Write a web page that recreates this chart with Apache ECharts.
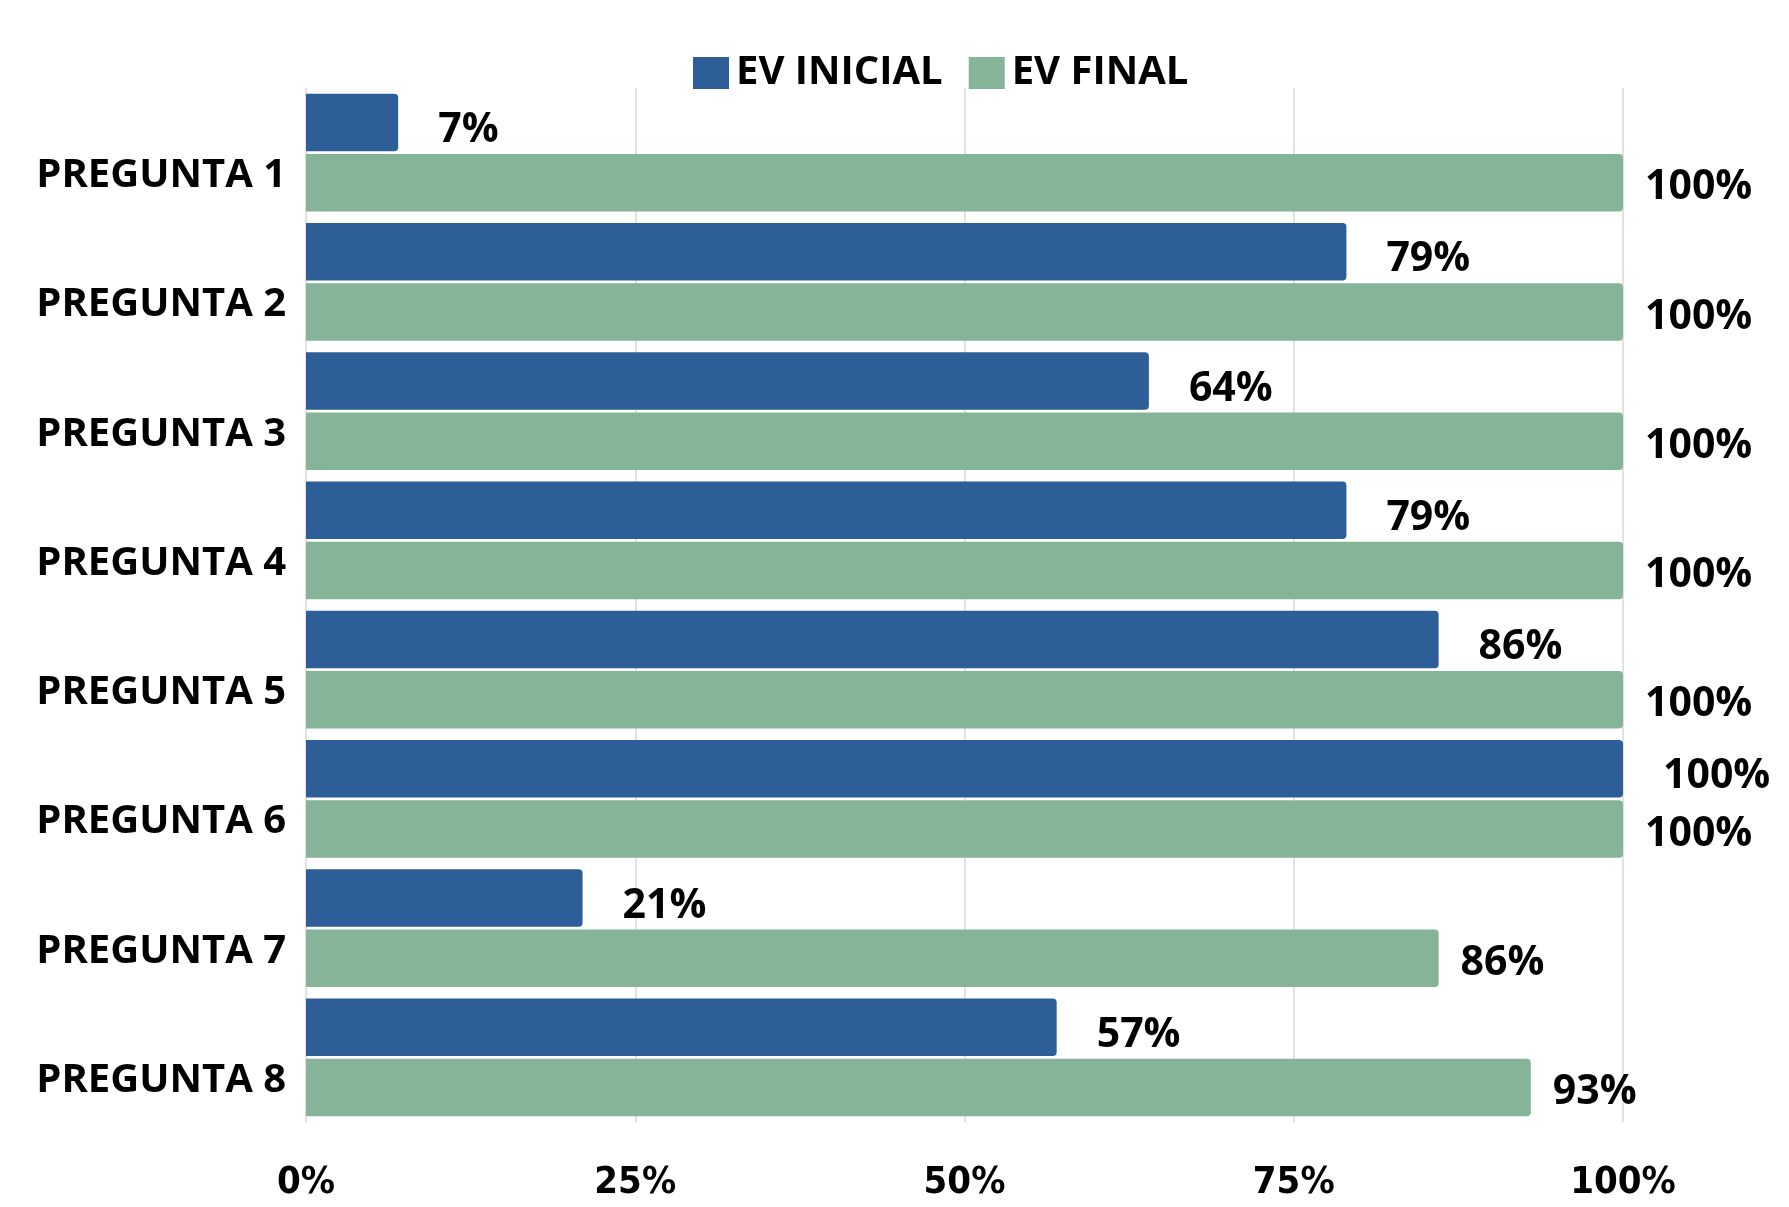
<!DOCTYPE html>
<html>
<head>
<meta charset="utf-8">
<script src="https://cdn.jsdelivr.net/npm/echarts@6/dist/echarts.min.js"></script>
<style>
    html, body { margin: 0; padding: 0; background: #fff; }
    #chart-preguntas { width: 1789px; height: 1207px; }
</style>
</head>
<body>
<div id="chart-preguntas"></div>
<script>
let categoriesPreguntas = ['PREGUNTA 1', 'PREGUNTA 2', 'PREGUNTA 3', 'PREGUNTA 4', 'PREGUNTA 5', 'PREGUNTA 6', 'PREGUNTA 7', 'PREGUNTA 8'];
let seriesNames = ['EV INICIAL', 'EV FINAL'];
let evInicial = [7, 79, 64, 79, 86, 100, 21, 57];
let evFinal = [100, 100, 100, 100, 100, 100, 86, 93];
let xTickValues = [0, 25, 50, 75, 100];

let fontMain = "'Open Sans', 'Noto Sans', sans-serif";

function chartBarPreguntas(element) {
    let chartDom = document.getElementById(element);
    let myChart = echarts.init(chartDom);
    let option = {
        animation: false,
        backgroundColor: '#ffffff',
        legend: {
            top: 48,
            left: 688,
            itemWidth: 36,
            itemHeight: 32,
            itemGap: 26,
            icon: 'rect',
            data: seriesNames,
            textStyle: {
                fontFamily: fontMain,
                fontWeight: 'bold',
                fontSize: 40,
                color: '#000',
                padding: [0, 0, 0, 2]
            }
        },
        grid: {
            left: 306,
            right: 166,
            top: 88,
            bottom: 85,
            containLabel: false
        },
        xAxis: {
            type: 'value',
            min: xTickValues[0],
            max: xTickValues[xTickValues.length - 1],
            interval: 25,
            axisLine: {show: false},
            axisTick: {show: false},
            splitLine: {
                show: true,
                lineStyle: {color: '#d9d9d9', width: 1.5}
            },
            axisLabel: {
                formatter: '{value}%',
                fontFamily: "'Liberation Sans Narrow', 'DejaVu Sans Condensed', 'Roboto', sans-serif",
                fontWeight: 'bold',
                fontSize: 38,
                color: '#000',
                margin: 42
            }
        },
        yAxis: {
            type: 'category',
            inverse: true,
            data: categoriesPreguntas,
            axisLine: {show: false},
            axisTick: {show: false},
            axisLabel: {
                fontFamily: fontMain,
                fontWeight: 'bold',
                fontSize: 40,
                color: '#000',
                margin: 20,
                verticalAlign: 'top',
                lineHeight: 46
            }
        },
        series: [
            {
                name: seriesNames[0],
                type: 'bar',
                data: evInicial,
                barGap: '5%',
                barCategoryGap: '9%',
                itemStyle: {color: '#2e5e98', borderRadius: [0, 4, 4, 0]},
                label: {
                    show: true,
                    position: 'right',
                    distance: 40,
                    offset: [0, 8],
                    formatter: '{c}%',
                    fontFamily: fontMain,
                    fontWeight: 'bold',
                    fontSize: 41,
                    color: '#000'
                }
            },
            {
                name: seriesNames[1],
                type: 'bar',
                data: evFinal,
                itemStyle: {color: '#86b498', borderRadius: [0, 4, 4, 0]},
                label: {
                    show: true,
                    position: 'right',
                    distance: 22,
                    offset: [0, 5],
                    formatter: '{c}%',
                    fontFamily: fontMain,
                    fontWeight: 'bold',
                    fontSize: 41,
                    color: '#000'
                }
            }
        ]
    };
    option && myChart.setOption(option);
}

chartBarPreguntas('chart-preguntas');
</script>
</body>
</html>
